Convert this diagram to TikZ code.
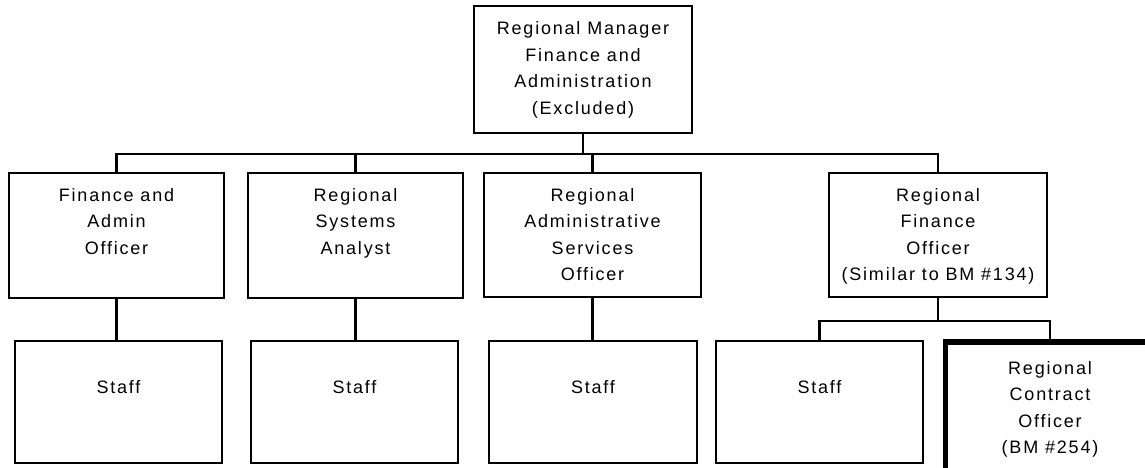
\documentclass[tikz,border=0pt]{standalone}
\usepackage{fontspec}
\newfontfamily\orgfont{Liberation Sans}[LetterSpace=10]
\begin{document}
\begin{tikzpicture}[x=1pt, y=-1pt,
  box/.style={draw, rectangle, line width=2.6pt, inner sep=0pt},
  keybox/.style={box, line width=5.5pt},
  lbl/.style={align=center, inner sep=0pt, font=\orgfont\fontsize{18}{26.5}\selectfont},
  link/.style={line width=2.6pt}]
  \fill[white] (0,0) rectangle (1145,468);
  \useasboundingbox (0,0) rectangle (1145,468);

  % boxes
  \node[box, minimum width=218pt, minimum height=127pt] (top) at (583,69.5) {};
  \node[box, minimum width=215pt, minimum height=125pt] (b1) at (116.5,235.5) {};
  \node[box, minimum width=215pt, minimum height=125pt] (b2) at (355.5,235.5) {};
  \node[box, minimum width=217pt, minimum height=124pt] (b3) at (592.5,235) {};
  \node[box, minimum width=218pt, minimum height=124pt] (b4) at (938,235) {};
  \node[box, minimum width=207pt, minimum height=122pt] (s1) at (118.5,402) {};
  \node[box, minimum width=207pt, minimum height=122pt] (s2) at (354.5,402) {};
  \node[box, minimum width=208pt, minimum height=122pt] (s3) at (593,402) {};
  \node[box, minimum width=207pt, minimum height=122pt] (s4) at (819.5,402) {};
  \node[keybox, minimum width=209pt, minimum height=130pt] (rc) at (1050,407) {};

  % labels
  \node[lbl] (t-top) at (583,70) {Regional Manager\\Finance and\\Administration\\(Excluded)};
  \node[lbl, anchor=north] (t-b1) at (116.5,188) {Finance and\\Admin\\Officer};
  \node[lbl, anchor=north] (t-b2) at (355.5,188) {Regional\\Systems\\Analyst};
  \node[lbl, anchor=north] (t-b3) at (592.5,188) {Regional\\Administrative\\Services\\Officer};
  \node[lbl, anchor=north] (t-b4) at (938,188) {Regional\\Finance\\Officer\\(Similar to BM \#134)};
  \node[lbl] (t-s1) at (118.5,387) {Staff};
  \node[lbl] (t-s2) at (354.5,387) {Staff};
  \node[lbl] (t-s3) at (593,387) {Staff};
  \node[lbl] (t-s4) at (819.5,387) {Staff};
  \node[lbl, anchor=north] (t-rc) at (1050,361) {Regional\\Contract\\Officer\\(BM \#254)};

  % connectors
  \coordinate (bus1) at (583,154);
  \coordinate (bus2) at (938,321);
  \draw[link] (top.south) -- (bus1);
  \draw[link] (b1.north) |- (bus1) -| (b4.north);
  \draw[link] (b2.north) -- (b2.north |- bus1);
  \draw[link] (b3.north) -- (b3.north |- bus1);
  \draw[link] (b1.south) -- (b1.south |- s1.north);
  \draw[link] (b2.south) -- (b2.south |- s2.north);
  \draw[link] (b3.south) -- (b3.south |- s3.north);
  \draw[link] (b4.south) -- (bus2);
  \draw[link] (s4.north) |- (bus2) -| (rc.north);
\end{tikzpicture}
\end{document}
